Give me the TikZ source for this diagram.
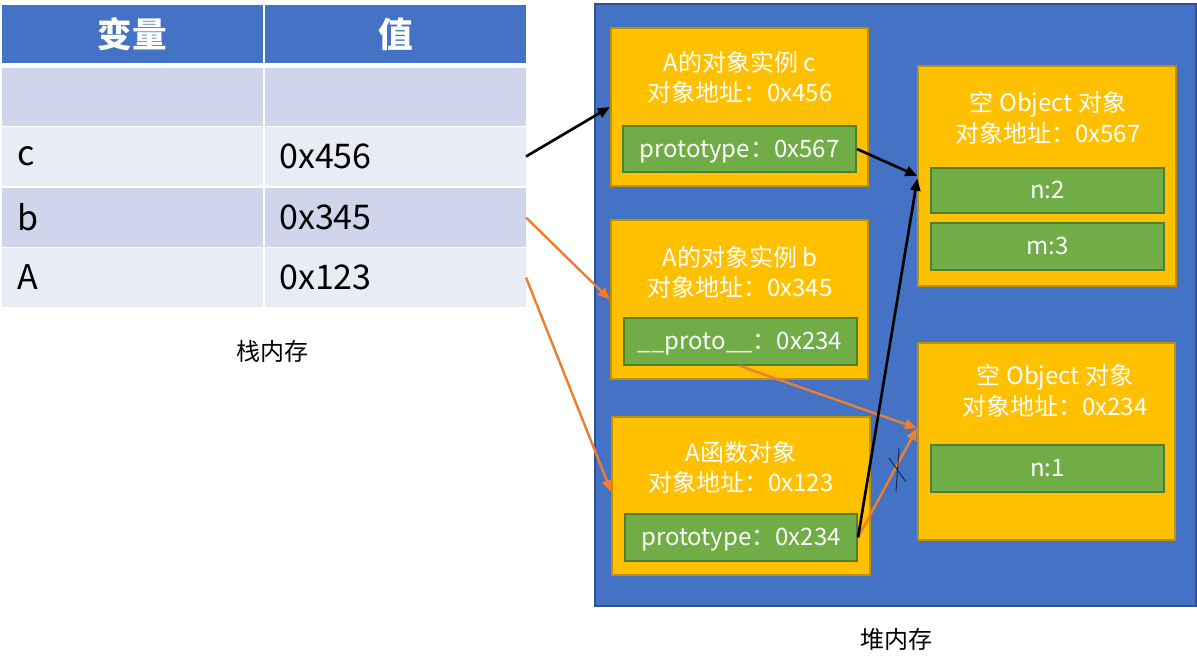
\documentclass[tikz,border=0pt]{standalone}
\usepackage{fontspec}
\setmainfont{Noto Sans CJK SC}
\usetikzlibrary{arrows.meta}
\definecolor{hdr}{HTML}{4472C4}
\definecolor{rowdark}{HTML}{CFD5EA}
\definecolor{rowlight}{HTML}{E9EBF5}
\definecolor{heapB}{HTML}{2F528F}
\definecolor{yel}{HTML}{FFC000}
\definecolor{yelB}{HTML}{BF9000}
\definecolor{grn}{HTML}{70AD47}
\definecolor{grnB}{HTML}{507E32}
\definecolor{org}{HTML}{ED7D31}
\definecolor{crossc}{HTML}{1F2A44}
\begin{document}
\begin{tikzpicture}[x=0.75pt,y=-0.75pt,
  cell/.style={inner sep=0pt, outer sep=0pt, minimum width=195.75pt},
  hdrcell/.style={cell, fill=hdr, minimum height=43.5pt, text=white, font=\fontsize{26}{30}\selectfont\bfseries},
  darkrow/.style={cell, fill=rowdark, minimum height=43.5pt},
  lightrow/.style={cell, fill=rowlight, minimum height=44.25pt},
  celltext/.style={anchor=west, inner sep=0pt, font=\fontsize{25.5}{30}\selectfont},
  objbox/.style={draw=yelB, line width=1.5pt, fill=yel, inner sep=0pt, minimum width=193pt},
  fieldbox/.style={draw=grnB, line width=1.5pt, fill=grn, text=white, inner sep=0pt, text height=15.5pt, text depth=3pt, minimum width=174.75pt, minimum height=34.5pt, font=\fontsize{18}{22}\selectfont},
  boxtext/.style={text=white, inner sep=0pt, font=\fontsize{18}{22}\selectfont},
  lbl/.style={inner sep=0pt, font=\fontsize{18}{22}\selectfont},
  blackarrow/.style={draw=black, line width=2pt, -{Triangle[length=9pt,width=7.5pt]}},
  orangearrow/.style={draw=org, line width=1.8pt, -{Triangle[length=9pt,width=7.5pt]}}
]
\useasboundingbox (0,0) rectangle (1197,668);
% stack table
\node[hdrcell] (h1) at (132.5,34) {变量};
\node[hdrcell] (h2) at (395.5,34) {值};
\node[darkrow] (k0) at (132.5,96.5) {};
\node[darkrow] (v0) at (395.5,96.5) {};
\node[lightrow] (kc) at (132.5,156.5) {};
\node[lightrow] (vc) at (395.5,156.5) {};
\node[darkrow, minimum height=44.25pt] (kb) at (132.5,217.5) {};
\node[darkrow, minimum height=44.25pt] (vb) at (395.5,217.5) {};
\node[lightrow] (kA) at (132.5,277.5) {};
\node[lightrow] (vA) at (395.5,277.5) {};
\node[celltext] (tc) at (17,156.5) {c};
\node[celltext] (tvc) at (279,156.5) {0x456};
\node[celltext] (tb) at (17,217.5) {b};
\node[celltext] (tvb) at (279,217.5) {0x345};
\node[celltext] (tA) at (17,277.5) {A};
\node[celltext] (tvA) at (279,277.5) {0x123};
\node[lbl] (stack) at (272,351) {栈内存};
% heap
\node[draw=heapB, line width=1.5pt, fill=hdr, inner sep=0pt, minimum width=450.75pt, minimum height=451.5pt] (heap) at (895.5,305) {};
\node[lbl] (heaplbl) at (896,639) {堆内存};
% object c
\node[objbox, minimum height=118.5pt] (objc) at (739.5,107) {};
\node[boxtext] (objc1) at (740,62) {A的对象实例 c};
\node[boxtext] (objc2) at (740,92) {对象地址：0x456};
\node[fieldbox] (protoc) at (739.5,149) {prototype：0x567};
% object b
\node[objbox, minimum height=119.25pt] (objb) at (739.5,299.5) {};
\node[boxtext] (objb1) at (740,257) {A的对象实例 b};
\node[boxtext] (objb2) at (740,287) {对象地址：0x345};
\node[fieldbox, minimum height=35.25pt] (protob) at (740,341.5) {\_\_proto\_\_：0x234};
% function A
\node[objbox, minimum height=118.5pt] (objA) at (741,496) {};
\node[boxtext] (objA1) at (741,452) {A函数对象};
\node[boxtext] (objA2) at (741,482) {对象地址：0x123};
\node[fieldbox, minimum width=174pt, minimum height=35.25pt] (protoA) at (741,537.5) {prototype：0x234};
% Object 0x567
\node[objbox, minimum height=165pt] (o567) at (1047,176) {};
\node[boxtext] (o5671) at (1048,104) {空 Object 对象};
\node[boxtext] (o5672) at (1048,133) {对象地址：0x567};
\node[fieldbox, minimum height=33.75pt] (n2) at (1047.5,190.5) {n:2};
\node[fieldbox, minimum height=35.25pt] (m3) at (1047.5,246.5) {m:3};
% Object 0x234
\node[objbox, minimum width=192.75pt, minimum height=147.75pt] (o234) at (1046.5,441.5) {};
\node[boxtext] (o2341) at (1055,377) {空 Object 对象};
\node[boxtext] (o2342) at (1055,406) {对象地址：0x234};
\node[fieldbox, minimum height=35.25pt] (n1) at (1047.5,468.5) {n:1};
% connectors
\draw[blackarrow] (vc.east) -- (objc.west);
\draw[orangearrow] (vb.east) -- (objb.west);
\draw[orangearrow] (vA.east) -- ([yshift=3pt]objA.west);
\draw[blackarrow] (protoc.east) -- (o567.west);
\draw[orangearrow] (protob.south) -- ([yshift=10pt]o234.west);
\draw[orangearrow] (protoA.east) -- ([yshift=10pt]o234.west);
\draw[blackarrow] (protoA.east) -- ([yshift=-2pt]o567.west);
% cross mark
\draw[crossc, line width=0.7pt] (899,448) -- (896,492);
\draw[crossc, line width=0.7pt] (889,458) -- (906,482);
\end{tikzpicture}
\end{document}
